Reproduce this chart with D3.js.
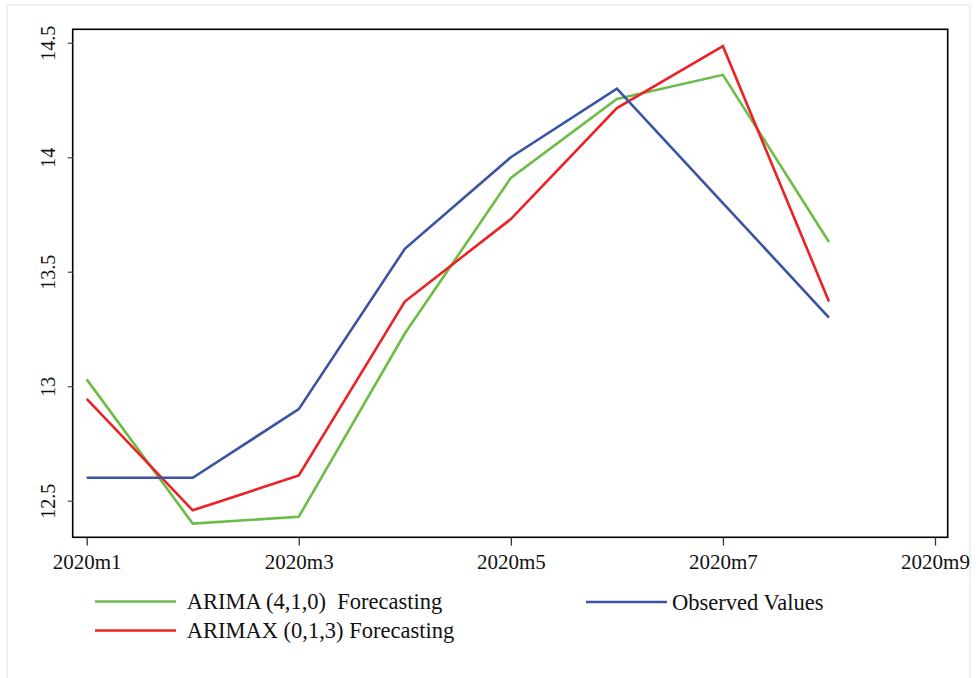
<!DOCTYPE html>
<html><head><meta charset="utf-8">
<script src="https://cdn.jsdelivr.net/npm/d3@7"></script>
<style>body{margin:0;background:#fff;}svg{display:block;} text{font-family:"Liberation Serif","Times New Roman",Times,serif;}</style>
</head><body>
<svg id="c" width="976" height="678"></svg>
<script>
const months = [1,2,3,4,5,6,7,8];
const xTicks = [1,3,5,7,9];
const xTickLabels = ["2020m1","2020m3","2020m5","2020m7","2020m9"];
const yTicks = [12.5,13,13.5,14,14.5];
const yTickLabels = ["12.5","13","13.5","14","14.5"];
const arima = [13.03,12.40,12.43,13.23,13.91,14.255,14.36,13.63];
const arimax = [12.945,12.458,12.61,13.37,13.73,14.215,14.485,13.37];
const observed = [12.60,12.60,12.90,13.60,14.00,14.30,13.80,13.30];
const seriesNames = ["ARIMA (4,1,0)  Forecasting","ARIMAX (0,1,3) Forecasting","Observed Values"];
const colors = ["#6cbd45","#ed2125","#3a53a4"];

const svg = d3.select("#c");
svg.append("rect").attr("x",7).attr("y",5).attr("width",963).attr("height",690)
  .attr("fill","#fff").attr("stroke","#e6edf1").attr("stroke-width",1.5);

const x = d3.scaleLinear().domain([1,9]).range([86.7,935]);
const y = d3.scaleLinear().domain([12.5,14.5]).range([500.7,42.8]);

// frame
svg.append("rect").attr("x",72.7).attr("y",29.3).attr("width",875).attr("height",508)
  .attr("fill","none").attr("stroke","#000").attr("stroke-width",1.6);

// y axis
const yAxis = d3.axisLeft(y).tickValues(yTicks).tickFormat((d,i)=>yTickLabels[i]).tickSize(5).tickPadding(0);
const gy = svg.append("g").attr("transform","translate(72.7,0)").call(yAxis);
gy.attr("font-family",null);
gy.select(".domain").remove();
gy.selectAll(".tick line").attr("stroke","#555").attr("stroke-width",1.3);
gy.selectAll(".tick text").attr("font-size",20).attr("fill","#111")
  .attr("x",0).attr("dy",0).attr("text-anchor","middle")
  .attr("transform","translate(-18,0) rotate(-90)");

// x axis
const xAxis = d3.axisBottom(x).tickValues(xTicks).tickFormat((d,i)=>xTickLabels[i]).tickSize(8).tickPadding(0);
const gx = svg.append("g").attr("transform","translate(0,537.6)").call(xAxis);
gx.attr("font-family",null);
gx.select(".domain").remove();
gx.selectAll(".tick line").attr("stroke","#333").attr("stroke-width",1.3);
gx.selectAll(".tick text").attr("font-size",21).attr("fill","#111")
  .attr("dy",0).attr("y",31.5);

// lines
const line = d3.line().x((d,i)=>x(months[i])).y(d=>y(d));
[arima, arimax, observed].forEach((s,k)=>{
  svg.append("path").datum(s).attr("d",line).attr("fill","none")
    .attr("stroke",colors[k]).attr("stroke-width",2.6).attr("stroke-linejoin","miter");
});

// legend
const leg = [
  {x1:95,x2:176,y:601.5,tx:186.7},
  {x1:95,x2:176,y:630.5,tx:186.7},
  {x1:586,x2:667,y:602,tx:672}
];
leg.forEach((l,k)=>{
  svg.append("text").attr("x",l.tx).attr("y",l.y+7.5)
    .attr("font-size",22.5).attr("fill","#111").style("white-space","pre").text(seriesNames[k]);
  svg.append("line").attr("x1",l.x1).attr("x2",l.x2).attr("y1",l.y).attr("y2",l.y)
    .attr("stroke",colors[k]).attr("stroke-width",2.6);
});
</script>
</body></html>
